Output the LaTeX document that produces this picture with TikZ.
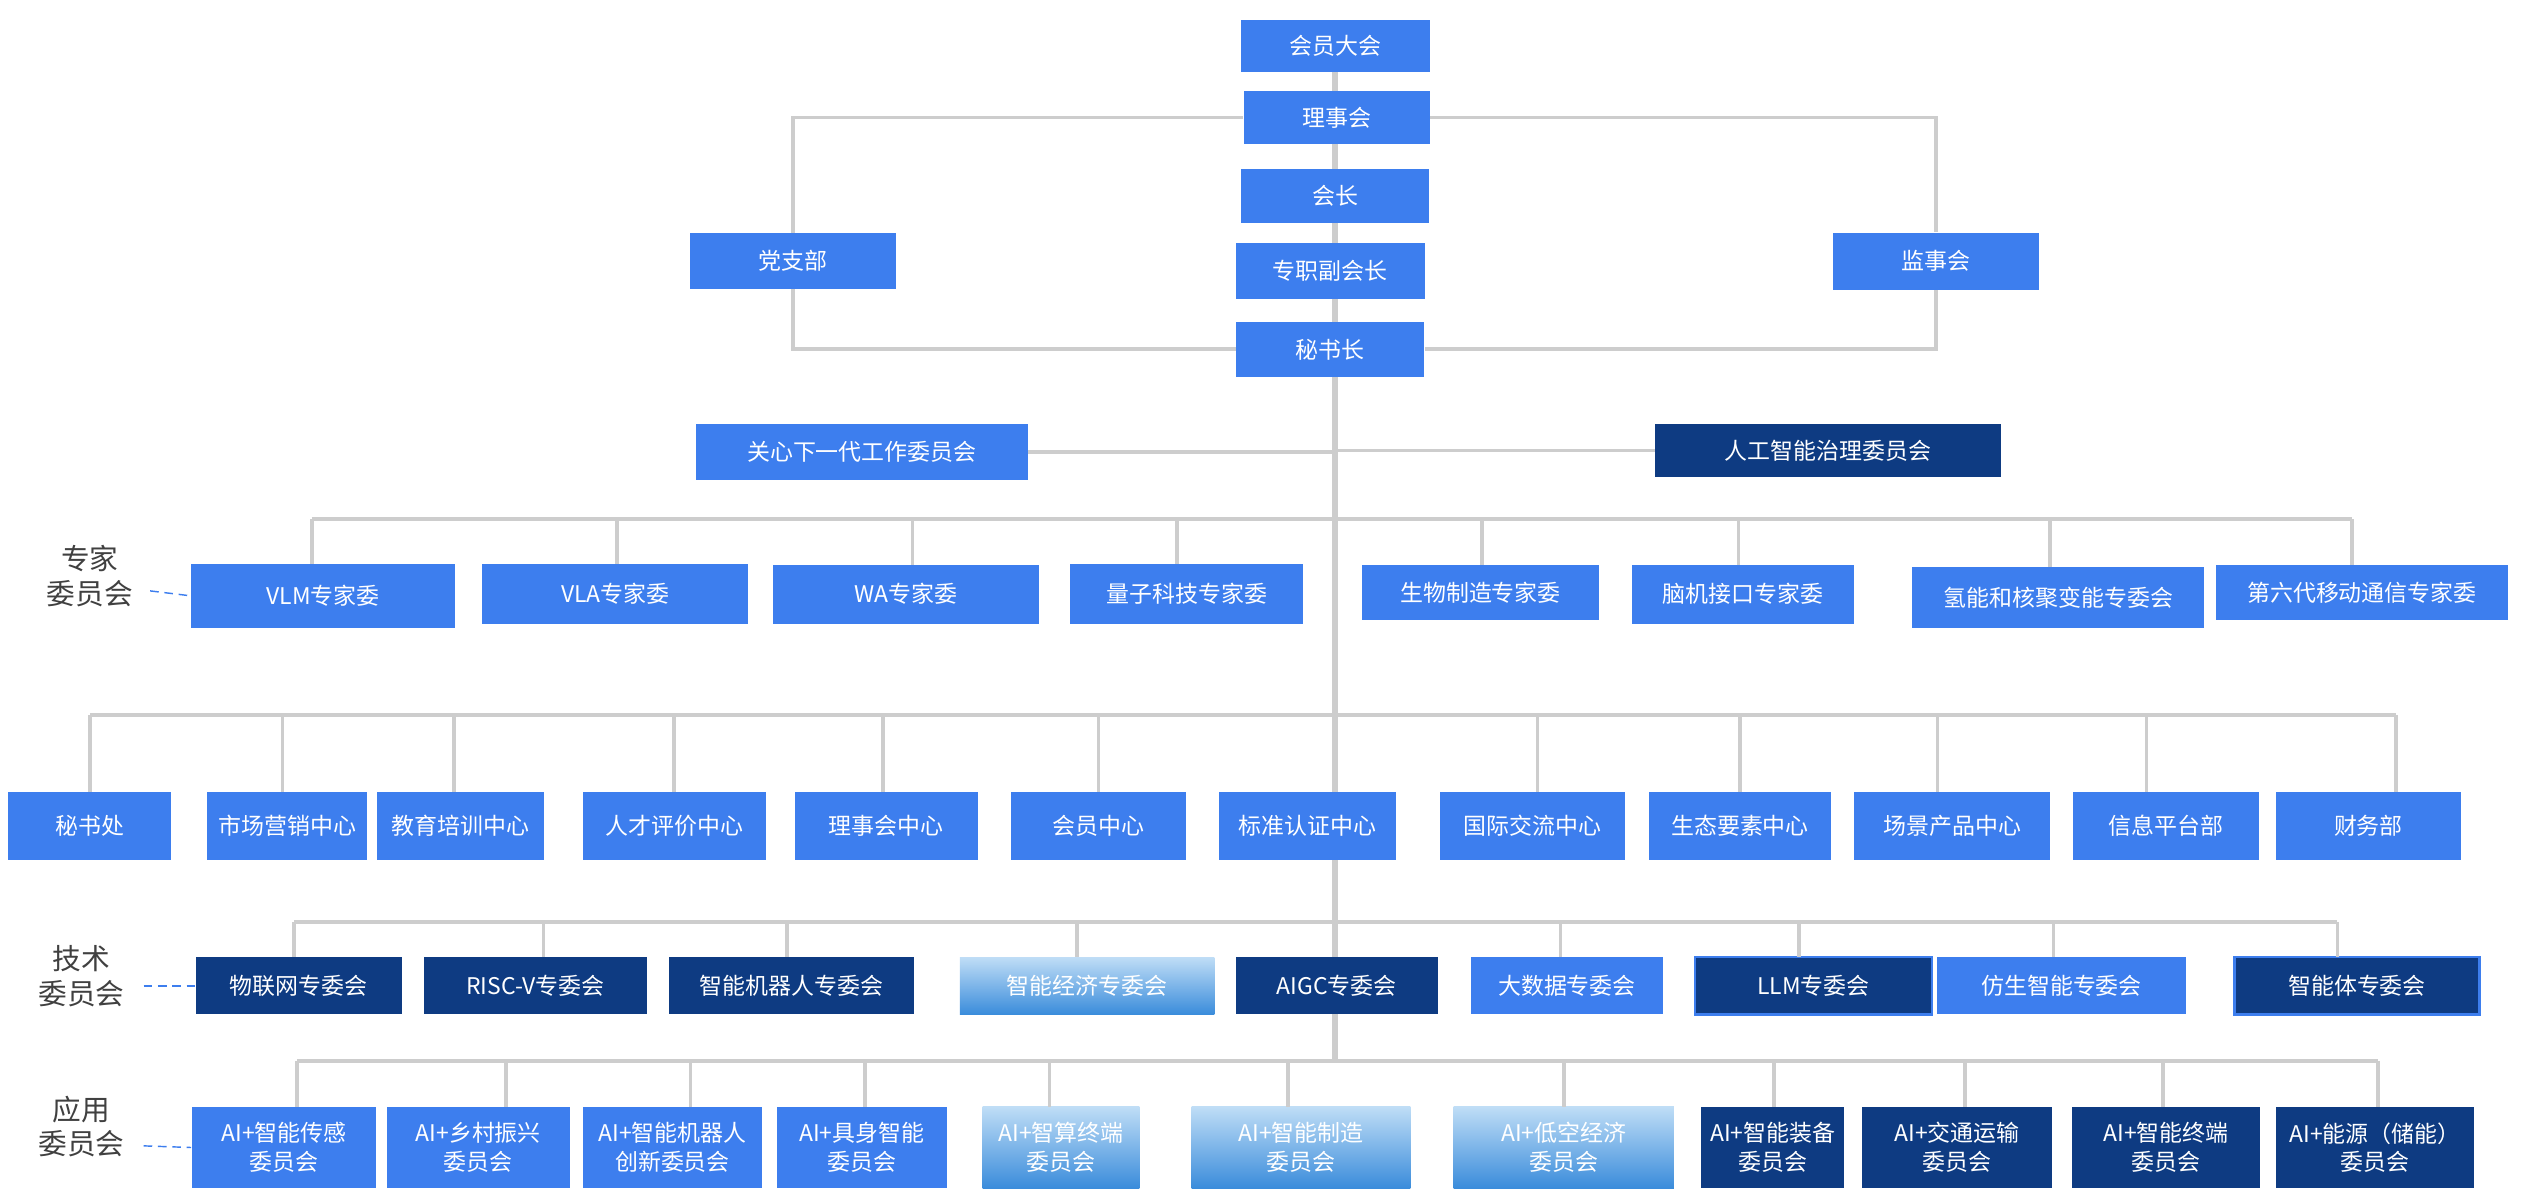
\documentclass[tikz,border=0pt]{standalone}
\usepackage{fontspec}
\setmainfont{Noto Sans CJK SC}
\usetikzlibrary{positioning,backgrounds}
\definecolor{boxblue}{HTML}{3D7EEE}
\definecolor{navy}{HTML}{0E3B82}
\definecolor{linegray}{HTML}{CDCDCD}
\definecolor{gradtop}{HTML}{BFDDF6}
\definecolor{gradbot}{HTML}{3A8CDB}
\newcommand{\orgbox}[7]{% name/x/y/w/h/style/text
  \node[#6,minimum width=#4*0.02cm,minimum height=#5*0.02cm] (#1) at (#2,#3) {#7};}
\begin{document}
\begin{tikzpicture}[x=0.02cm,y=-0.02cm,
    bbox/.style={fill=boxblue,text=white,inner sep=0pt,align=center,font=\fontsize{8}{10}\selectfont},
    nbox/.style={bbox,fill=navy},
    lbox/.style={nbox,draw=boxblue,line width=0.8pt},
    gbox/.style={bbox,top color=gradtop,bottom color=gradbot},
    conn/.style={draw=linegray,line width=1.3pt},
    spine/.style={draw=linegray,line width=2pt},
    grp/.style={text=black!75,align=center,font=\fontsize{10}{12}\selectfont},
    grpline/.style={draw=boxblue,densely dashed,line width=0.5pt},
  ]
  \useasboundingbox (0,0) rectangle (1550,735);
  % top
  \orgbox{dh}{818}{28}{116}{32}{bbox}{会员大会}
  \orgbox{lsh}{819}{72}{114}{33}{bbox}{理事会}
  \orgbox{hz}{818}{120}{115}{33}{bbox}{会长}
  \orgbox{fhz}{815}{166}{116}{34}{bbox}{专职副会长}
  \orgbox{msz}{815}{214}{115}{34}{bbox}{秘书长}
  \orgbox{dzb}{486}{160}{126}{34}{bbox}{党支部}
  \orgbox{jsh}{1186}{160}{126}{35}{bbox}{监事会}
  \orgbox{gx}{528}{277}{203}{34}{bbox}{关心下一代工作委员会}
  \orgbox{zl}{1120}{276}{212}{33}{nbox}{人工智能治理委员会}
  \coordinate (sEnd) at (818,650);
  \begin{pgfonlayer}{background}
  \path[conn] (dzb.north) -- (dzb.north |- lsh.west) -- (lsh.west);
  \path[conn] (lsh.east) -- (jsh.north |- lsh.east) -- (jsh.north);
  \path[conn] (dzb.south) -- (dzb.south |- msz.west) -- (msz.west);
  \path[conn] (jsh.south) -- (jsh.south |- msz.east) -- (msz.east);
  \path[spine] (dh.south) -- (sEnd);
  \path[conn] (gx.east) -- (sEnd |- gx.east);
  \path[conn] (zl.west) -- (sEnd |- zl.west);
  \end{pgfonlayer}
  % experts
  \coordinate (eL) at (191,318); \coordinate (eR) at (1441,318);
  \path[conn] (eL) -- (eR);
  \foreach \n/\x/\y/\w/\h/\t/\tx in {
    e1/198/365/162/39/VLM专家委/191, e2/377/364/163/37/VLA专家委/378,
    e3/555/364/163/36/WA专家委/559, e4/727/364/143/37/量子科技专家委/721,
    e5/907/363/145/34/生物制造专家委/908, e6/1068/364/136/36/脑机接口专家委/1065,
    e7/1261/366/179/37/氢能和核聚变能专委会/1256, e8/1447/363/179/34/第六代移动通信专家委/1441}{
    \orgbox{\n}{\x}{\y}{\w}{\h}{bbox}{\t}
    \path[conn] (\tx,318) -- (\tx,\y-\h/2);
  }
  \node[grp] (gE) at (55,353) {专家\\委员会};
  \path[grpline] (92,362) -- (e1.west);
  % departments
  \path[conn] (55,438) -- (1468,438);
  \foreach \n/\x/\w/\t/\tx in {
    d1/55/100/秘书处/55, d2/176/98/市场营销中心/173, d3/282/102/教育培训中心/278,
    d4/413/112/人才评价中心/413, d5/543/112/理事会中心/541, d6/673/107/会员中心/673,
    d7/801/109/标准认证中心/818, d8/939/113/国际交流中心/942, d9/1066/111/生态要素中心/1066,
    d10/1196/120/场景产品中心/1187, d11/1327/114/信息平台部/1315, d12/1451/113/财务部/1468}{
    \orgbox{\n}{\x}{506}{\w}{42}{bbox}{\t}
    \path[conn] (\tx,438) -- (\tx,485);
  }
  % technical
  \path[conn] (180,565) -- (1432,565);
  \foreach \n/\x/\w/\s/\t/\tx in {
    t1/183/126/nbox/物联网专委会/180, t2/328/137/nbox/RISC-V专委会/333,
    t3/485/150/nbox/智能机器人专委会/482, t4/666/156/gbox/智能经济专委会/660,
    t5/819/124/nbox/AIGC专委会/818, t6/960/118/bbox/大数据专委会/956,
    t7/1111/145/lbox/LLM专委会/1102, t8/1263/153/bbox/仿生智能专委会/1258,
    t9/1444/150/lbox/智能体专委会/1432}{
    \orgbox{\n}{\x}{604}{\w}{35}{\s}{\t}
    \path[conn] (\tx,565) -- (\tx,586);
  }
  \node[grp] (gT) at (50,598) {技术\\委员会};
  \path[grpline] (88,604) -- (t1.west);
  % application
  \path[conn] (182,650) -- (1457,650);
  \foreach \n/\x/\w/\s/\t/\tx in {
    a1/174/113/bbox/{AI+智能传感\\委员会}/182, a2/293/112/bbox/{AI+乡村振兴\\委员会}/310,
    a3/412/110/bbox/{AI+智能机器人\\创新委员会}/423, a4/528/104/bbox/{AI+具身智能\\委员会}/530,
    a5/650/96/gbox/{AI+智算终端\\委员会}/643, a6/797/134/gbox/{AI+智能制造\\委员会}/789,
    a7/958/135/gbox/{AI+低空经济\\委员会}/958, a8/1086/88/nbox/{AI+智能装备\\委员会}/1087,
    a9/1199/116/nbox/{AI+交通运输\\委员会}/1204, a10/1327/115/nbox/{AI+智能终端\\委员会}/1325,
    a11/1455/121/nbox/{AI+能源（储能）\\委员会}/1457}{
    \orgbox{\n}{\x}{703}{\w}{50}{\s}{\t}
    \path[conn] (\tx,650) -- (\tx,678);
  }
  \node[grp] (gA) at (50,690) {应用\\委员会};
  \path[grpline] (88,702) -- (a1.west);
\end{tikzpicture}
\end{document}
